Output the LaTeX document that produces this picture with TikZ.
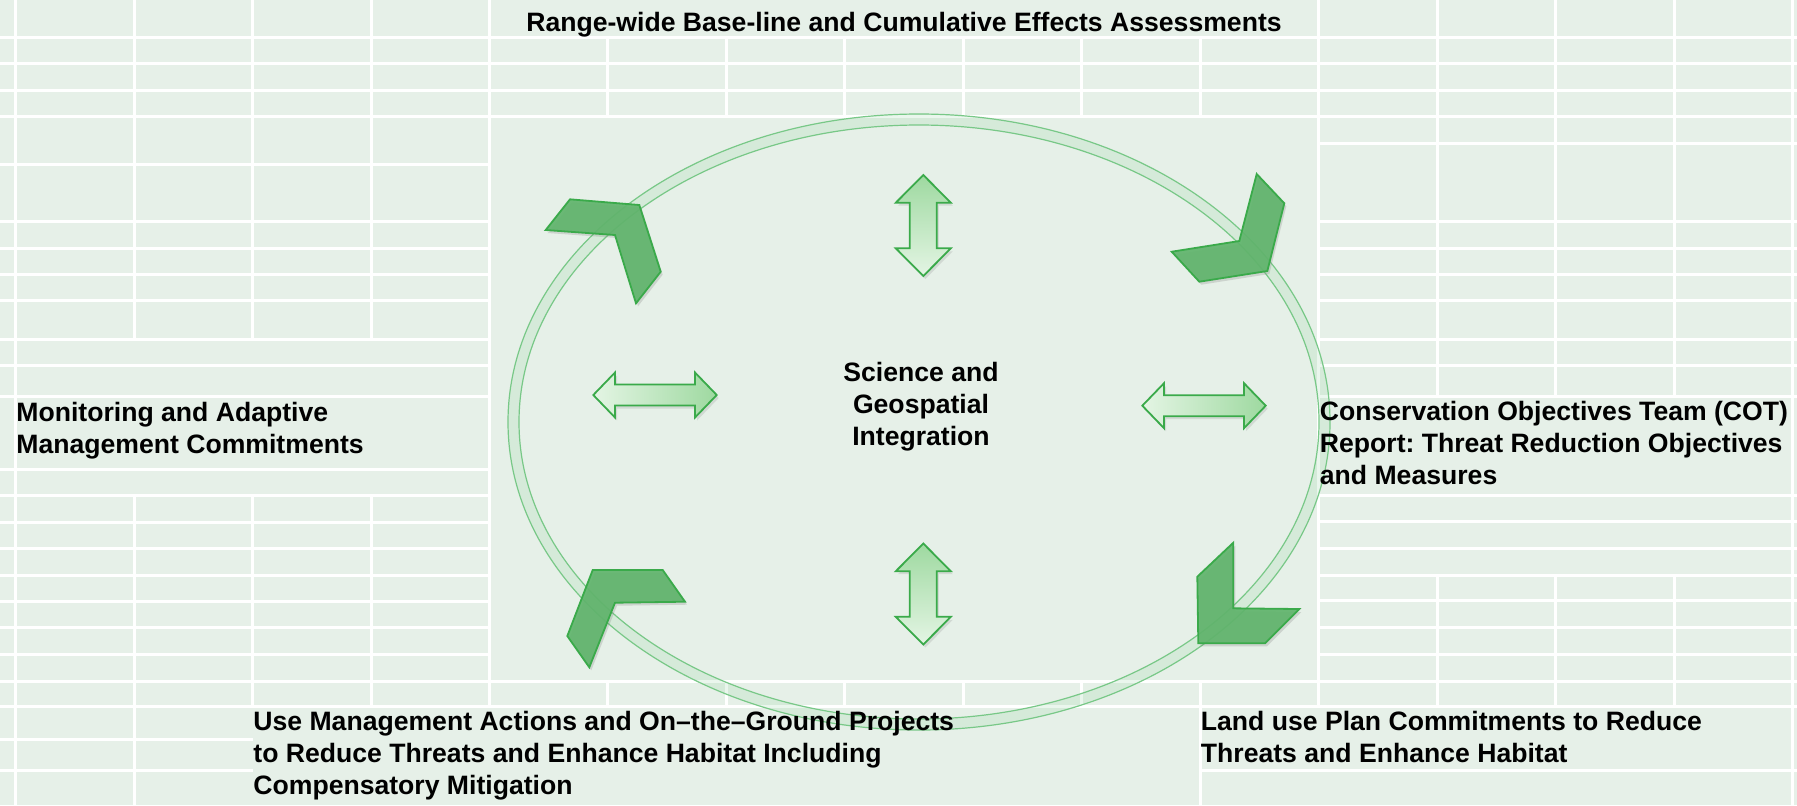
\documentclass[tikz,border=0pt]{standalone}
\usepackage{fontspec}
\setmainfont{Liberation Sans}
\usetikzlibrary{shadows}
\frenchspacing

\definecolor{bggreen}{RGB}{230,240,232}
\definecolor{chevfill}{RGB}{96,180,108}
\definecolor{chevline}{RGB}{58,170,74}
\definecolor{ringline}{RGB}{120,200,135}
\definecolor{arrlight}{RGB}{228,245,228}
\definecolor{arrdark}{RGB}{158,217,160}

\begin{document}
\begin{tikzpicture}[x=0.5pt,y=-0.5pt,
	gridline/.style={white,line width=1.5pt},
	chev/.style={fill=chevfill,fill opacity=0.92,draw=chevline,line width=0.9pt,
		drop shadow={opacity=0.25,shadow xshift=1pt,shadow yshift=-1.5pt}},
	dblarr/.style={draw=chevline,line width=0.9pt,
		drop shadow={opacity=0.2,shadow xshift=1pt,shadow yshift=-1.5pt}},
	lbl/.style={font=\bfseries\fontsize{13.3}{16}\selectfont,inner sep=0pt,align=left}]
	
	% background
	\useasboundingbox (0,0) rectangle (1797,805);
	\fill[bggreen] (0,0) rectangle (1797,805);
	
	% grid lines, horizontal: y/x1/x2
	\foreach \y/\xa/\xb in {37/0/1797,63.3/0/1797,90/0/1797,116.7/0/1797,
		164/0/490,221/0/490,248.3/0/490,274.3/0/490,300.7/0/490,339/0/490,365/0/490,
		396/0/490,469/0/490,495.7/0/490,522/0/490,548.3/0/490,575/0/490,601/0/490,
		627.7/0/490,654.3/0/490,681/0/1797,706.7/0/1797,739.3/0/252.6,770.7/0/252.6,
		143.3/1319/1797,221/1319/1797,248.3/1319/1797,274.3/1319/1797,300.7/1319/1797,
		339/1319/1797,365/1319/1797,396.7/1319/1797,495/1319/1797,521.7/1319/1797,
		548.3/1319/1797,575/1319/1797,600/1319/1797,627.7/1319/1797,654.3/1319/1797,
		770.7/1200/1797}
	{
		\draw[gridline] (\xa,\y) -- (\xb,\y);
	}
	
	% grid lines, vertical: x/y1/y2
	\foreach \x/\ya/\yb in {15.3/0/805,134/0/339,134/495.7/805,252.6/0/339,252.6/495.7/706.7,
		371.2/0/339,371.2/495.7/706.7,489.9/0/706.7,
		607.8/37/116.7,726.3/37/116.7,844.8/37/116.7,963.3/37/116.7,1081.8/37/116.7,1200.3/37/116.7,
		607.8/681/706.7,726.3/681/706.7,844.8/681/706.7,963.3/681/706.7,1081.8/681/706.7,1200.3/681/805,
		1318.8/0/706.7,1437.3/0/396.7,1555.8/0/396.7,1674.3/0/396.7,
		1437.3/575/706.7,1555.8/575/706.7,1674.3/575/706.7,1792.8/0/805}
	{
		\draw[gridline] (\x,\ya) -- (\x,\yb);
	}
	
	% draw ring
	\fill[ringline,fill opacity=0.15,even odd rule] (919,422) ellipse [x radius=411,y radius=308]
		(919,422) ellipse [x radius=400,y radius=297];
	\draw[ringline,line width=0.6pt] (919,422) ellipse [x radius=411,y radius=308];
	\draw[ringline,line width=0.6pt] (919,422) ellipse [x radius=400,y radius=297];
	
	% draw chevrons
	\draw[chev] (570,199.3) -- (639.3,205) -- (660.7,271.7) -- (636,303.3) -- (615,235) -- (545.7,230) -- cycle;
	\draw[chev] (1256.7,174) -- (1284.3,203.3) -- (1267.3,271) -- (1199.3,281.7) -- (1171.7,251.7) -- (1239.3,241) -- cycle;
	\draw[chev] (592.7,570) -- (662.7,570) -- (685,601.7) -- (615,602.7) -- (589.3,667.3) -- (567.3,636) -- cycle;
	\draw[chev] (1233.3,542.7) -- (1233.3,608.3) -- (1299.3,609) -- (1265,643.3) -- (1198.3,643.3) -- (1197.3,576.7) -- cycle;
	
	% draw double arrows
	\foreach \cx/\cy in {655/395,1204/405.7}
	{
		\draw[dblarr,left color=arrlight,right color=arrdark] (\cx,\cy) ++(-61.7,0) -- ++(21.7,-22.5) -- ++(0,12)
			-- ++(80,0) -- ++(0,-12) -- ++(21.7,22.5) -- ++(-21.7,22.5) -- ++(0,-12) -- ++(-80,0) -- ++(0,12) -- cycle;
	}
	\foreach \cy in {225.5,594}
	{
		\draw[dblarr,top color=arrdark,bottom color=arrlight] (923.3,\cy) ++(0,-50.5) -- ++(27.5,27.7) -- ++(-14,0)
			-- ++(0,45.6) -- ++(14,0) -- ++(-27.5,27.7) -- ++(-27.5,-27.7) -- ++(14,0) -- ++(0,-45.6) -- ++(-14,0) -- cycle;
	}
	
	% labels (base anchor sits on the last line)
	\node[lbl,anchor=base] (assess) at (904,31) {Range-wide Base-line and Cumulative Effects Assessments};
	\node[lbl,anchor=base,align=center] (science) at (921,445.6) {Science and\\Geospatial\\Integration};
	\node[lbl,anchor=base west] (monitor) at (16,453) {Monitoring and Adaptive\\Management Commitments};
	\node[lbl,anchor=base west] (cot) at (1319.5,484.7) {Conservation Objectives Team (COT)\\Report: Threat Reduction Objectives\\and Measures};
	\node[lbl,anchor=base west] (actions) at (253,794.7) {Use Management Actions and On–the–Ground Projects\\to Reduce Threats and Enhance Habitat Including\\Compensatory Mitigation};
	\node[lbl,anchor=base west] (landuse) at (1200.5,762) {Land use Plan Commitments to Reduce\\Threats and Enhance Habitat};
\end{tikzpicture}
\end{document}
